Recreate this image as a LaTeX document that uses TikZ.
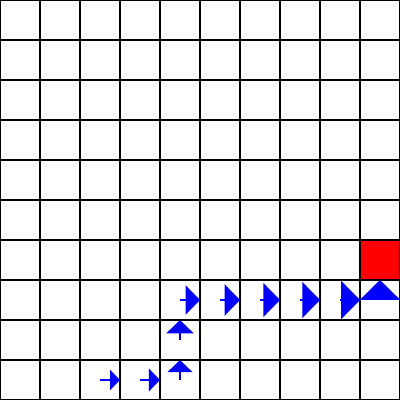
\documentclass[tikz,border=0pt]{standalone}
\usepackage{tikz}
\usetikzlibrary{arrows.meta}
\tikzstyle{gridline} = [line width=1.4pt, black]
\tikzstyle{goal} = [fill=red]
\tikzstyle{move} = [line width=2.1pt, blue]

\begin{document}
\begin{tikzpicture}
    \useasboundingbox (0,0) rectangle (10,10);
    % goal cell
    \fill[goal] (9,3) rectangle (10,4);
    \draw[gridline] (0,0) grid (10,10);

    % path of moves, heads growing step by step
    \foreach \x/\y/\dx/\dy/\i in {2.5/0.5/0.5/0/0, 3.5/0.5/0.5/0/1, 4.5/0.5/0/0.5/2, 4.5/1.5/0/0.5/3,
        4.5/2.5/0.5/0/4, 5.5/2.5/0.5/0/5, 6.5/2.5/0.5/0/6, 7.5/2.5/0.5/0/7, 8.5/2.5/0.5/0/8, 9.5/2.5/0/0.5/9} {
        \pgfmathsetmacro{\h}{(10+1.1*\i)/40}
        \coordinate (from) at (\x,\y);
        \coordinate (to) at (\x+\dx,\y+\dy);
        \draw[move, -{Triangle[length=\h cm, width=2*\h cm]}] (from) -- (to);
    }
\end{tikzpicture}
\end{document}
